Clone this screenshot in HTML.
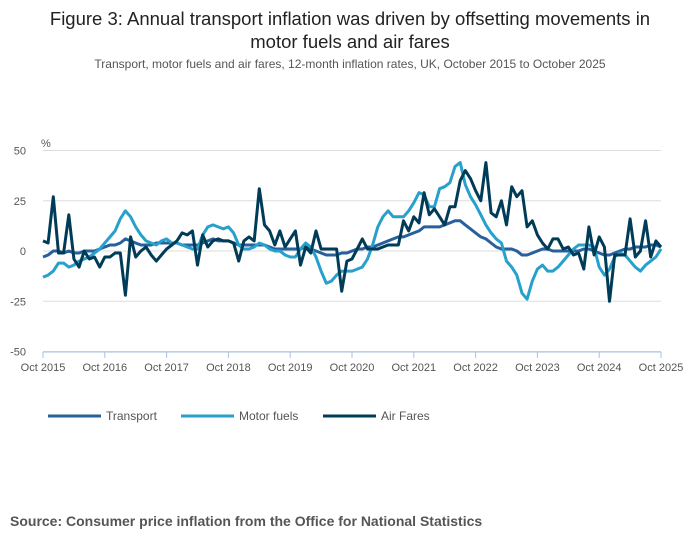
<!DOCTYPE html>
<html><head><meta charset="utf-8"><style>
body{margin:0;width:700px;height:549px;background:#fff;font-family:"Liberation Sans",sans-serif;overflow:hidden}
#t{position:absolute;top:7px;left:0;width:700px;text-align:center;font-size:18.5px;color:#222;line-height:23px}
#s{position:absolute;top:57px;left:0;width:700px;text-align:center;font-size:12px;color:#555}
#src{position:absolute;top:513px;left:10px;font-size:14px;font-weight:bold;color:#555}
svg{position:absolute;top:0;left:0}
</style></head><body>
<div id="t">Figure 3: Annual transport inflation was driven by offsetting movements in<br>motor fuels and air fares</div>
<div id="s">Transport, motor fuels and air fares, 12-month inflation rates, UK, October 2015 to October 2025</div>
<svg id="c" width="700" height="549"></svg>
<div id="src">Source: Consumer price inflation from the Office for National Statistics</div>
<script>
const xLabels=["Oct 2015","Oct 2016","Oct 2017","Oct 2018","Oct 2019","Oct 2020","Oct 2021","Oct 2022","Oct 2023","Oct 2024","Oct 2025"];
const yTicks=[50,25,0,-25,-50];
const transport=[-3,-2,0,0,-1,0,-1,-1,0,0,0,1, 2,3,3,4,6,5,4,3,3,3,4,4, 4,4,4,3,3,3,3,4,5,6,5,5, 5,4,3,3,3,3,3,3,2,1,1,1, 1,1,1,2,1,0,-1,-2,-2,-2,-1,-1, 0,1,1,2,2,3,4,5,6,7,7,8, 9,10,12,12,12,12,13,14,15,15,13,11, 9,7,6,4,2,1,1,1,0,-2,-2,-1, 0,1,1,0,0,0,0,0,0,1,1,0, -1,-2,-2,-1,0,1,1,2,2,2,3,3, 2];
const motorFuels=[-13,-12,-10,-6,-6,-8,-7,-5,-4,-3,-1,1, 4,7,10,16,20,17,12,8,5,4,3,5, 6,4,4,3,2,1,1,8,12,13,12,11, 12,9,3,1,1,2,4,3,1,0,0,-2, -3,-3,1,4,2,-3,-10,-16,-15,-12,-10,-10, -10,-9,-8,-4,3,12,17,20,17,17,17,20, 24,29,28,22,22,31,32,34,42,44,33,27, 23,18,13,9,6,4,-5,-8,-12,-21,-24,-15, -9,-7,-10,-10,-8,-5,-2,1,3,3,3,2, -8,-12,-9,-3,-1,-2,-5,-8,-10,-7,-5,-3, 1];
const airFares=[5,4,27,-1,-1,18,-4,-8,0,-4,-3,-8, -3,-3,-1,-1,-22,7,-3,0,2,-2,-5,-2, 1,3,5,9,8,10,-7,8,2,5,6,5, 5,4,-5,5,7,5,31,13,10,3,10,2, 6,10,-7,2,-1,10,1,1,1,1,-20,-5, -4,1,6,1,1,1,2,3,3,3,15,10, 17,14,29,18,21,17,13,22,22,35,40,36, 30,25,44,19,17,25,13,32,27,30,12,15, 8,4,1,6,6,1,2,-2,-1,-9,12,-2, 7,2,-25,-2,-2,-2,16,-3,0,15,-3,5, 2];
const NS="http://www.w3.org/2000/svg",svg=document.getElementById('c');
const X=i=>43+i*(618/120), Y=v=>251-v*2.01;
function mk(t,a,p){const e=document.createElementNS(NS,t);for(const k in a)e.setAttribute(k,a[k]);(p||svg).appendChild(e);return e;}
yTicks.forEach(v=>{
 const g=mk('line',{x1:43,x2:661,y1:Y(v),y2:Y(v),stroke:'#ddd','stroke-width':1});
 
 
 const t=mk('text',{x:26,y:Y(v)+4,'font-size':11,fill:'#555','text-anchor':'end'});t.textContent=v;
 
 
});
const pct=mk('text',{x:41,y:147,'font-size':11,fill:'#555'});pct.textContent='%';


const ax=mk('line',{x1:43,x2:661,y1:352,y2:352,stroke:'#aac0dd','stroke-width':1});


xLabels.forEach((l,i)=>{
 const x=X(i*12);
 mk('line',{x1:x,x2:x,y1:352,y2:358,stroke:'#aac0dd'});
 const t=mk('text',{x:x,y:371,'font-size':11,fill:'#555','text-anchor':'middle'});t.textContent=l;
 
 
});
const series=[[transport,'#27609c','Transport','transport-line'],[motorFuels,'#27a0cc','Motor fuels','motor-fuels-line'],[airFares,'#003c57','Air Fares','air-fares-line']];
series.forEach(([d,c,n,dn])=>{
 const p=mk('path',{d:d.map((v,i)=>(i?'L':'M')+X(i).toFixed(1)+','+Y(v).toFixed(1)).join(''),fill:'none',stroke:c,'stroke-width':3,'stroke-linejoin':'round'});
 
 
});
const lx=[48,181,323];
series.forEach(([d,c,n,dn],i)=>{
 const l=mk('line',{x1:lx[i],x2:lx[i]+53,y1:416,y2:416,stroke:c,'stroke-width':3});
 
 
 const t=mk('text',{x:lx[i]+58,y:420,'font-size':12,fill:'#555'});t.textContent=n;
 
 
});
</script>
</body></html>
